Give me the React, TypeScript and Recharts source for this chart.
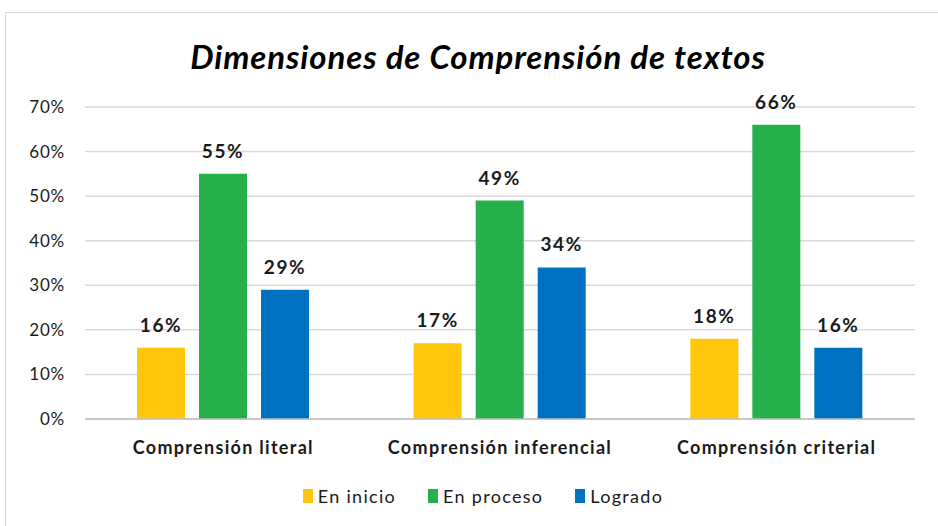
import { Bar, BarChart, CartesianGrid, LabelList, Legend, XAxis, YAxis } from "recharts";

const CATEGORIES = ["Comprensión literal", "Comprensión inferencial", "Comprensión criterial"];
const EN_INICIO = [16, 17, 18];
const EN_PROCESO = [55, 49, 66];
const LOGRADO = [29, 34, 16];
const Y_TICKS = [0, 10, 20, 30, 40, 50, 60, 70];

const YELLOW = "#FFC60B";
const GREEN = "#25B04C";
const BLUE = "#0070C0";
const TEXT = "#1a1a1a";
const FONT = "Lato, 'Open Sans', sans-serif";

const SERIES = [
  { key: "inicio", name: "En inicio", color: YELLOW },
  { key: "proceso", name: "En proceso", color: GREEN },
  { key: "logrado", name: "Logrado", color: BLUE },
];

const data = CATEGORIES.map((name, i) => ({
  name,
  inicio: EN_INICIO[i],
  proceso: EN_PROCESO[i],
  logrado: LOGRADO[i],
}));

const labelProps = {
  position: "top" as const,
  offset: 16,
  fill: TEXT,
  fontSize: 19,
  fontWeight: 700,
  fontFamily: FONT,
  letterSpacing: 1.6,
  formatter: (v: unknown) => `${v}%`,
};

function LegendBox() {
  return (
    <div
      style={{
        height: 30,
        display: "flex",
        justifyContent: "center",
        alignItems: "center",
        gap: 32,
        fontFamily: FONT,
        fontSize: 18,
        letterSpacing: 1.3,
        color: TEXT,
        paddingLeft: 46,
      }}
    >
      {SERIES.map((s) => (
        <div key={s.key} style={{ display: "flex", alignItems: "center", gap: 5 }}>
          <span style={{ display: "inline-block", width: 10, height: 14, background: s.color }} />
          <span>{s.name}</span>
        </div>
      ))}
    </div>
  );
}

export default function App() {
  return (
    <div style={{ position: "absolute", left: 0, top: 0, width: 938, height: 526, background: "#fff", overflow: "hidden" }}>
      <div
        style={{
          position: "absolute",
          left: 5,
          top: 12,
          width: 960,
          height: 540,
          border: "1.5px solid #D9D9D9",
        }}
      />
      <div
        style={{
          position: "absolute",
          left: 0,
          top: 36,
          width: 956,
          textAlign: "center",
          fontFamily: FONT,
          fontWeight: 700,
          fontStyle: "italic",
          fontSize: 33,
          letterSpacing: 0.9,
          color: "#000",
        }}
      >
        Dimensiones de Comprensión de textos
      </div>
      <BarChart
        width={938}
        height={526}
        data={data}
        margin={{ top: 107, right: 23, bottom: 15, left: 5 }}
        barGap={14}
        barCategoryGap={52}
      >
        <CartesianGrid vertical={false} stroke="#D9D9D9" strokeWidth={1.5} />
        <XAxis
          dataKey="name"
          height={62}
          tickSize={0}
          tickMargin={22}
          axisLine={{ stroke: "#BFBFBF", strokeWidth: 1.5 }}
          tick={{ fill: TEXT, fontSize: 18, fontWeight: 700, fontFamily: FONT, letterSpacing: 1.3 }}
        />
        <YAxis
          width={80}
          domain={[0, 70]}
          ticks={Y_TICKS}
          tickFormatter={(v) => `${v}%`}
          axisLine={false}
          tickSize={0}
          tickMargin={20}
          tick={{ fill: TEXT, fontSize: 17, fontFamily: FONT, letterSpacing: 0.8 }}
        />
        <Legend verticalAlign="bottom" height={30} content={() => <LegendBox />} />
        {SERIES.map((s) => (
          <Bar key={s.key} dataKey={s.key} name={s.name} fill={s.color} isAnimationActive={false}>
            <LabelList dataKey={s.key} {...labelProps} />
          </Bar>
        ))}
      </BarChart>
    </div>
  );
}
